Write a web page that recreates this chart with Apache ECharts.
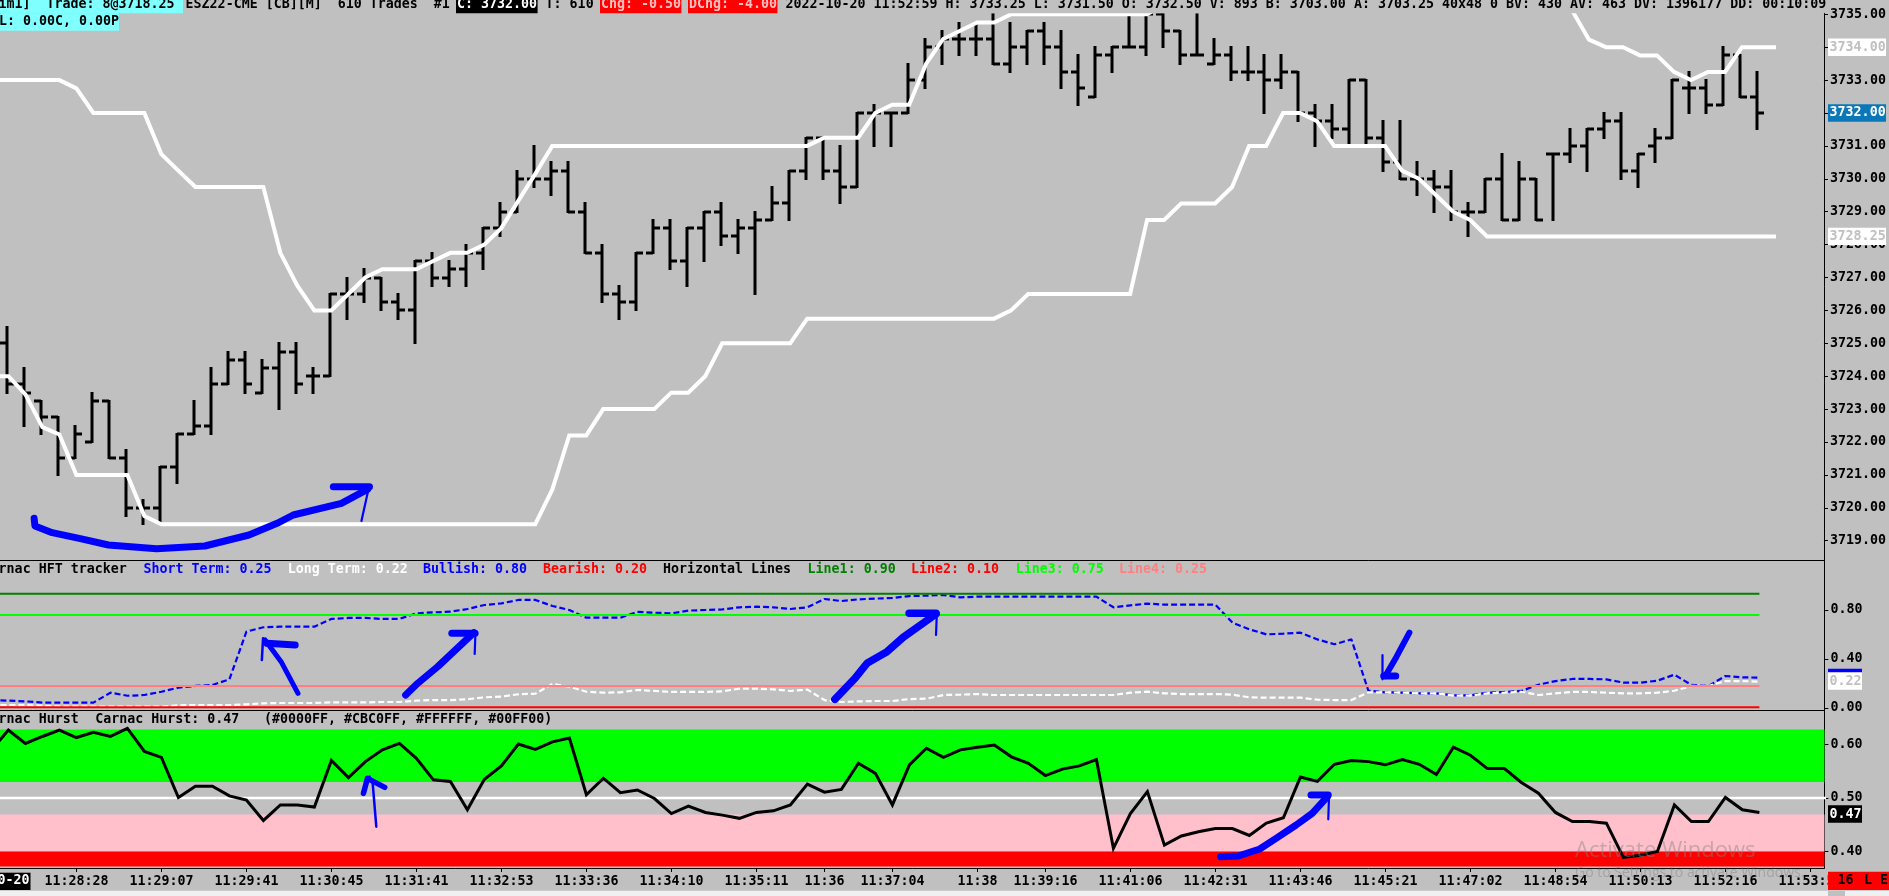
<!DOCTYPE html>
<html><head><meta charset="utf-8">
<style>html,body{margin:0;padding:0;background:#f0f0f0;overflow:hidden}#c{width:1889px;height:896px}</style>
<script src="https://cdn.jsdelivr.net/npm/echarts@6/dist/echarts.min.js"></script>
</head><body><div id="c"></div>
<script>
// --- data, indexed by bar number ---
const opens=[3725,3723.75,3723.25,3722.75,3721.5,3722,3723.25,3721.5,3720,3720,3721.25,3722.25,3722.5,3723.75,3724.5,3723.5,3724.25,3724.75,3724,3724,3726.5,3726.5,3727,3726.25,3726,3727.5,3727,3727.25,3727.75,3728.5,3729,3730,3730,3730.25,3729,3727.75,3726.5,3726.25,3727.75,3728.5,3727.5,3728.5,3729,3728.25,3728.5,3728.75,3729.25,3730.25,3731.25,3730.25,3729.75,3732,3732,3732,3733,3734,3734.25,3734.25,3734.25,3733.5,3734,3734.5,3734,3733.25,3732.5,3733.75,3734,3734,3735,3734.5,3733.75,3733.5,3733.75,3733.25,3733.25,3733,3733.25,3732,3731.75,3731.5,3733,3731.25,3730.5,3730,3730,3729.75,3729,3729,3730,3728.75,3730,3730.75,3730.75,3731,3731.5,3731.75,3730.25,3731,3731.25,3732.75,3732.75,3732.25,3733.75,3732.5];
const highs=[3725.5,3724.25,3723.25,3722.75,3722.5,3723.5,3723.25,3721.75,3720.25,3721.25,3722.25,3723.25,3724.25,3724.75,3724.75,3724.5,3725,3725,3724.25,3726.5,3727,3727.25,3727,3726.5,3727.5,3727.75,3727.5,3728,3728.5,3729.25,3730.25,3731,3730.5,3730.5,3729.25,3728,3726.75,3727.75,3728.75,3728.75,3728.5,3729,3729.25,3728.75,3729,3729.75,3730.25,3731.25,3731.25,3731,3732,3732.25,3732,3733.5,3734.25,3734.5,3734.75,3734.75,3735,3734.75,3734.5,3734.75,3734.5,3733.75,3734,3734,3735,3735,3735,3734.5,3735,3734.25,3734,3734,3733.75,3733.75,3733.25,3732.25,3732.25,3733,3733,3731.75,3731.75,3730.5,3730.25,3730.25,3729.25,3730,3730.75,3730.5,3730,3730.75,3731.5,3731.5,3732,3732,3730.75,3731.5,3733,3733.25,3733,3734,3733.75,3733.25];
const lows=[3723.5,3722.5,3722.25,3721,3721.5,3722,3721.5,3719.75,3719.5,3719.5,3720.75,3722.25,3722.25,3723.75,3723.5,3723.5,3723,3723.5,3723.5,3724,3725.75,3726.25,3726,3725.75,3725,3726.75,3726.75,3726.75,3727.25,3728.25,3729,3729.75,3729.5,3729,3727.75,3726.25,3725.75,3726,3727.75,3727.25,3726.75,3727.5,3728,3727.75,3726.5,3728.75,3728.75,3730,3730,3729.25,3729.75,3731,3731,3732,3732.75,3733.5,3733.75,3733.75,3733.5,3733.25,3733.5,3733.5,3732.75,3732.25,3732.5,3733.25,3734,3733.75,3734,3733.5,3733.75,3733.5,3733,3733,3732,3732.75,3731.75,3731,3731.25,3731,3731,3730.25,3730,3729.5,3729,3728.75,3728.25,3729,3728.75,3728.75,3728.75,3728.75,3730.5,3730.25,3731.25,3730,3729.75,3730.5,3731.25,3732,3732,3732.25,3732.5,3731.5];
const closes=[3723.75,3723.5,3722.75,3721.5,3722.25,3723.25,3721.5,3720,3720,3721.25,3722.25,3722.5,3723.75,3724.5,3723.75,3724.25,3724.75,3723.75,3724,3726.5,3726.5,3727,3726.25,3726,3727.5,3727,3727.25,3727.75,3728.5,3729,3730,3730,3730.25,3729,3727.75,3726.5,3726.25,3727.75,3728.5,3727.5,3728.5,3729,3728.25,3728.5,3728.75,3729.25,3730.25,3731.25,3730.25,3729.75,3732,3732,3732,3733,3734,3734.25,3734.25,3734.25,3733.5,3734,3734.5,3734,3733.25,3732.75,3733.75,3734,3734,3735,3734.5,3733.75,3733.75,3733.75,3733.25,3733.25,3733,3733.25,3732,3731.75,3731.5,3733,3731.25,3730.5,3730,3730,3729.75,3729,3729,3730,3728.75,3730,3728.75,3730.75,3731,3731.5,3731.75,3730.25,3730.75,3731.25,3733,3732.75,3732.25,3733.75,3732.5,3732];
const upperBand=[3733,3733,3733,3733,3732.75,3732,3732,3732,3732,3730.75,3730.25,3729.75,3729.75,3729.75,3729.75,3729.75,3727.75,3726.75,3726,3726,3726.5,3727,3727.25,3727.25,3727.25,3727.5,3727.75,3727.75,3728,3728.5,3729.33,3730.15,3731,3731,3731,3731,3731,3731,3731,3731,3731,3731,3731,3731,3731,3731,3731,3731,3731.25,3731.25,3731.25,3732,3732.25,3732.25,3733.5,3734.25,3734.5,3734.75,3734.75,3735,3735,3735,3735,3735,3735,3735,3735,3735,3735.3,null,null,null,null,null,null,null,null,null,null,null,null,null,null,null,null,null,null,null,null,null,null,null,3735.12,3734.23,3734,3734,3733.75,3733.75,3733.25,3733,3733.25,3733.25,3734,3734,3734];
const lowerBand=[3724,3723.45,3722.45,3722.23,3721,3721,3721,3721,3719.75,3719.5,3719.5,3719.5,3719.5,3719.5,3719.5,3719.5,3719.5,3719.5,3719.5,3719.5,3719.5,3719.5,3719.5,3719.5,3719.5,3719.5,3719.5,3719.5,3719.5,3719.5,3719.5,3719.5,3720.55,3722.2,3722.2,3723,3723,3723,3723,3723.5,3723.5,3724,3725,3725,3725,3725,3725,3725.75,3725.75,3725.75,3725.75,3725.75,3725.75,3725.75,3725.75,3725.75,3725.75,3725.75,3725.75,3726,3726.5,3726.5,3726.5,3726.5,3726.5,3726.5,3726.5,3728.75,3728.75,3729.25,3729.25,3729.25,3729.75,3731,3731,3732,3732,3731.75,3731,3731,3731,3731,3730.25,3730,3729.5,3729,3728.75,3728.25,3728.25,3728.25,3728.25,3728.25,3728.25,3728.25,3728.25,3728.25,3728.25,3728.25,3728.25,3728.25,3728.25,3728.25,3728.25,3728.25,3728.25];
const shortTerm=[.06,.054,.044,.044,.044,.044,.125,.10,.106,.133,.166,.18,.188,.234,.623,.659,.664,.664,.664,.727,.735,.735,.727,.727,.773,.781,.786,.808,.841,.854,.882,.882,.833,.80,.737,.737,.737,.784,.778,.773,.795,.80,.805,.822,.827,.822,.808,.822,.89,.873,.887,.893,.898,.914,.917,.922,.903,.909,.909,.909,.909,.909,.909,.909,.909,.822,.838,.852,.844,.844,.844,.844,.697,.642,.601,.607,.615,.56,.52,.56,.141,.128,.125,.12,.12,.103,.103,.125,.131,.139,.19,.22,.237,.237,.234,.207,.207,.223,.272,.188,.18,.261,.25,.248];
const longTerm=[.024,.024,.019,.011,.011,.011,.011,.011,.011,.011,.022,.024,.024,.024,.03,.038,.041,.041,.041,.046,.046,.046,.049,.049,.06,.065,.065,.071,.087,.093,.112,.117,.196,.174,.133,.125,.128,.147,.139,.131,.131,.131,.136,.158,.158,.152,.139,.15,.065,.049,.054,.057,.057,.073,.076,.106,.109,.114,.106,.106,.106,.106,.106,.106,.106,.106,.125,.133,.12,.114,.114,.114,.109,.087,.084,.084,.084,.068,.065,.065,.128,.128,.125,.12,.12,.101,.101,.12,.125,.133,.106,.12,.131,.131,.125,.12,.12,.125,.141,.18,.18,.22,.22,.215];
const hurst=[.627,.602,.615,.627,.613,.623,.615,.630,.587,.576,.501,.522,.522,.504,.496,.458,.487,.487,.483,.570,.538,.568,.590,.602,.574,.534,.531,.478,.535,.560,.601,.591,.605,.612,.506,.537,.510,.515,.499,.471,.485,.473,.468,.462,.473,.476,.487,.526,.511,.516,.565,.546,.487,.562,.593,.576,.590,.595,.599,.577,.565,.542,.554,.560,.572,.406,.471,.512,.412,.429,.437,.443,.443,.430,.453,.463,.539,.531,.563,.570,.568,.562,.572,.563,.544,.595,.580,.555,.555,.529,.509,.473,.456,.456,.453,.389,.393,.400,.487,.456,.456,.501,.478,.473];
// values of the bar just left of the window (only its line segments show)
const upperBefore=3733, lowerBefore=3724, shortBefore=.065, longBefore=.024, hurstBefore=.59;
const priceTicks=[3735,3734,3733,3732,3731,3730,3729,3728,3727,3726,3725,3724,3723,3722,3721,3720,3719];
const hftTicks=[.8,.4,0];
const hurstTicks=[.6,.5,.4];
const timeTickBars=[4,9,14,19,24,29,34,39,44,48,52,57,61,66,71,76,81,86,91,96,101,106];
const timeTickLabels=['11:28:28','11:29:07','11:29:41','11:30:45','11:31:41','11:32:53','11:33:36','11:34:10','11:35:11','11:36','11:37:04','11:38','11:39:16','11:41:06','11:42:31','11:43:46','11:45:21','11:47:02','11:48:54','11:50:13','11:52:16','11:53:59'];
const hLines=[{v:.90,c:'#008000'},{v:.10,c:'#ff0000'},{v:.75,c:'#00ff00'},{v:.25,c:'#ff8080'}];
const hurstBands=[{a:.628,b:.53,c:'#00ff00'},{a:.469,b:.40,c:'#ffc0cb'},{a:.40,b:.372,c:'#ff0000'}];
const hurstMid=.5;
const lastBar=103;

// --- layout ---
const W=1889,H=896,axisX=1824.4,BG='#c0c0c0';
const barStep=17, xMin=-8.4/barStep, xMax=xMin+axisX/barStep;
const FONT='bold 13.3px "DejaVu Sans Mono"';
const g1={top:13.3,bottom:560.3},g2={top:560.3,bottom:710.3},g3={top:710.3,bottom:868};
const gridOf=g=>({left:0,right:W-axisX,top:g.top,height:g.bottom-g.top});
const xBase=(idx,show)=>({type:'value',gridIndex:idx,min:xMin,max:xMax,splitLine:{show:false},
  axisLine:{show:true,onZero:false,lineStyle:{color:'#000',width:1}},
  axisTick:show?{show:true,length:4,lineStyle:{color:'#000'},customValues:timeTickBars}:{show:false},
  axisLabel:show?{show:true,color:'#000',fontFamily:'DejaVu Sans Mono',fontWeight:'bold',fontSize:13.3,margin:7,
    customValues:timeTickBars,formatter:v=>timeTickLabels[timeTickBars.indexOf(Math.round(v))]}:{show:false}});
const yBase=(idx,min,max,ticks)=>({type:'value',gridIndex:idx,position:'right',min,max,splitLine:{show:false},
  axisLine:{show:true,onZero:false,lineStyle:{color:'#000',width:1}},
  axisTick:{show:true,length:4,lineStyle:{color:'#000'},customValues:ticks},
  axisLabel:{show:true,color:'#000',fontFamily:'DejaVu Sans Mono',fontWeight:'bold',fontSize:13.3,margin:6,customValues:ticks,formatter:v=>v.toFixed(2)}});
const pairs=(arr,before)=>[[-1,before],...arr.map((v,i)=>[i,v])];
const lineS=(name,data,x,y,color,width,extra)=>Object.assign({name,type:'line',xAxisIndex:x,yAxisIndex:y,data,symbol:'none',showSymbol:false,animation:false,silent:true,connectNulls:false,lineStyle:{color,width,join:'miter',cap:'butt'}},extra||{});

const ohlc=opens.map((o,i)=>[i,o,highs[i],lows[i],closes[i]]);
function renderBar(params,api){
  const xc=Math.round(api.coord([api.value(0),api.value(1)])[0]-1.6);
  const py=v=>Math.round(api.coord([0,v])[1]);
  const yO=py(api.value(1)),yH=py(api.value(2)),yL=py(api.value(3)),yC=py(api.value(4));
  const st={fill:'#000'};
  return {type:'group',children:[
    {type:'rect',shape:{x:xc-1.5,y:yH-1,width:3,height:yL-yH+2},style:st},
    {type:'rect',shape:{x:xc-7,y:yO-1.5,width:7,height:3},style:st},
    {type:'rect',shape:{x:xc,y:yC-1.5,width:7,height:3},style:st}]};
}

const series=[
 {name:'Price',type:'custom',xAxisIndex:0,yAxisIndex:0,data:ohlc,renderItem:renderBar,animation:false,silent:true,z:2,clip:true,encode:{x:0,y:[1,2,3,4]}},
 lineS('Upper',pairs(upperBand,upperBefore),0,0,'#fff',4,{z:3}),
 lineS('Lower',pairs(lowerBand,lowerBefore),0,0,'#fff',4,{z:3}),
 lineS('Short Term',pairs(shortTerm,shortBefore),1,1,'#0000ff',2,{z:2,lineStyle:{color:'#0000ff',width:2.2,type:[6,3]}}),
 lineS('Long Term',pairs(longTerm,longBefore),1,1,'#fff',2,{z:2,lineStyle:{color:'#fff',width:2.2,type:[6,3]}}),
];
hLines.forEach(l=>series.push(lineS('Line '+l.v,[[-1,l.v],[lastBar,l.v]],1,2,l.c,2,{z:3})));
series.push({name:'Bands',type:'line',xAxisIndex:2,yAxisIndex:3,data:[],z:1,silent:true,animation:false,
  markArea:{silent:true,animation:false,data:hurstBands.map(b=>[{yAxis:b.a,itemStyle:{color:b.c,opacity:1}},{yAxis:b.b}])}});
series.push(lineS('Mid',[[-1,hurstMid],[110,hurstMid]],2,3,'#fff',2.4,{z:2}));
series.push(lineS('Carnac Hurst',pairs(hurst,hurstBefore),2,3,'#000',3,{z:3}));

const chart=echarts.init(document.getElementById('c'),null,{renderer:'canvas',width:W,height:H});
chart.setOption({
  backgroundColor:BG,animation:false,
  grid:[gridOf(g1),gridOf(g2),gridOf(g3)],
  xAxis:[xBase(0,false),xBase(1,false),xBase(2,true)],
  yAxis:[
    yBase(0,3735-(g1.bottom-14.3)/32.9,3735+(14.3-g1.top)/32.9,priceTicks),
    yBase(1,(708-g2.bottom)/122.5,(708-g2.top)/122.5,hftTicks),
    Object.assign(yBase(1,.75-(g2.bottom-615)/142,.75+(615-g2.top)/142,[]),{show:false}),
    yBase(2,hurstMid-(g3.bottom-798)/535,hurstMid+(798-g3.top)/535,hurstTicks)
  ],
  series
});

// --- overlays: status text, value tags, hand-drawn arrows ---
const Z=50,els=[];
const txt=(text,x,y,fill,extra)=>els.push({type:'text',z:Z+2,silent:true,style:Object.assign({text,x,y,fill,font:FONT,verticalAlign:'middle',align:'left'},extra||{})});
const rect=(x,y,w,h,fill,z)=>els.push({type:'rect',z:z||Z+1,silent:true,shape:{x,y,width:w,height:h},style:{fill}});
rect(0,0,axisX,13.3,BG);
rect(0,0,183,13.3,'#80ffff'); rect(0,13.3,119,17.4,'#80ffff');
txt('im1]  Trade: 8@3718.25',-1.5,4.7,'#000');
txt('ESZ22-CME [CB][M]  610 Trades  #1',185.6,4.7,'#000');
rect(456,0,81.6,13.3,'#000'); txt('C: 3732.00',457,4.7,'#fff');
txt('T: 610',545.6,4.7,'#000');
rect(600,0,81.4,13.3,'#ff0000'); txt('Chg: -0.50',601,4.7,'#ffc0c0');
rect(688,0,89.5,13.3,'#ff0000'); txt('DChg: -4.00',689,4.7,'#ffc0c0');
txt('2022-10-20 11:52:59 H: 3733.25 L: 3731.50 O: 3732.50 V: 893 B: 3703.00 A: 3703.25 40x48 0 BV: 430 AV: 463 DV: 1396177 DD: 00:10:09',785.5,4.7,'#000');
txt('L: 0.00C, 0.00P',-1,22,'#000');

const y2=570,y3=720;
txt('Carnac HFT tracker',-17.4,y2,'#000');
[['Short Term: 0.25',143.4,'#0000ff'],['Long Term: 0.22',287.7,'#ffffff'],['Bullish: 0.80',423,'#0000ff'],['Bearish: 0.20',543,'#ff0000'],['Horizontal Lines',663,'#000'],['Line1: 0.90',807.6,'#008000'],['Line2: 0.10',911,'#ff0000'],['Line3: 0.75',1015.7,'#00ff00'],['Line4: 0.25',1119,'#ff8080']].forEach(a=>txt(a[0],a[1],y2,a[2]));
txt('Carnac Hurst',-17.4,y3,'#000');
txt('Carnac Hurst: 0.47',95.2,y3,'#000');
txt('(#0000FF, #CBC0FF, #FFFFFF, #00FF00)',264,y3,'#000');

rect(axisX+0.6,711,W-axisX,18,BG);  // clips the 0.00 label at the pane edge

const tag=(value,axis,text,bg,fg,z)=>{
  const y=chart.convertToPixel({yAxisIndex:axis},value);
  rect(1828,y-8.7,text.length*8+2,17.4,bg,z);
  els.push({type:'text',z:z+1,silent:true,style:{text,x:1829.6,y,fill:fg,font:FONT,verticalAlign:'middle',align:'left'}});
};
tag(3734,0,'3734.00','#fff','#c0c0c0',Z+3);
tag(3732,0,'3732.00','#0a78b8','#fff',Z+3);
tag(3728.25,0,'3728.25','#fff','#c0c0c0',Z+3);
tag(.25,1,'0.25','#0000ff','#0000ff',Z+3);
tag(.22,1,'0.22','#fff','#c0c0c0',Z+5);
tag(.47,3,'0.47','#000','#fff',Z+3);

// date box and status box
rect(0,872.7,30.5,17.3,'#000');
els.push({type:'text',z:Z+2,silent:true,style:{text:'10-20',x:29.5,y:881,fill:'#fff',font:FONT,verticalAlign:'middle',align:'right'}});
rect(0,890.7,W,6,'#f0f0f0');
rect(1828,891,17,5,BG);
rect(1828,871.7,61,18.3,'#ff0000');
txt('16',1837.6,881,'#000'); txt('L',1864,881,'#000'); txt('E',1880,881,'#000');

// Windows watermark
txt('Activate Windows',1575,851,'rgba(130,130,130,0.45)',{font:'22px "Open Sans"'});
txt('Go to Settings to activate Windows.',1575,873,'rgba(120,120,120,0.4)',{font:'14px "Open Sans"'});

// hand-drawn blue arrows
const crop=(ox,oy,pts)=>pts.map(p=>[ox+p[0]/2.49,oy+p[1]/3]);
const stroke=(pts,w)=>els.push({type:'polyline',z:Z,silent:true,shape:{points:pts},style:{stroke:'#0000ff',lineWidth:w,fill:null,lineJoin:'round',lineCap:'round'}});
stroke(crop(0,300,[[85,655],[87,678],[130,698],[200,716],[270,735],[390,746],[510,738],[620,705],[690,670],[730,645],[850,610],[915,568]]),7);
stroke(crop(0,300,[[830,560],[920,560]]),7); stroke(crop(0,300,[[918,565],[900,663]]),2.2);
stroke(crop(0,550,[[742,430],[700,335],[660,270]]),5);
stroke(crop(0,550,[[665,280],[735,285]]),7); stroke(crop(0,550,[[655,265],[652,330]]),2.5);
stroke(crop(0,550,[[1010,435],[1040,400],[1090,350],[1180,248]]),7);
stroke(crop(0,550,[[1125,250],[1183,250]]),7); stroke(crop(0,550,[[1184,245],[1182,312]]),2.2);
stroke(crop(0,550,[[937,830],[928,700],[920,680]]),2.5);
stroke(crop(0,550,[[905,730],[915,685],[958,712]]),5.5);
stroke(crop(630,550,[[510,448],[560,385],[590,340],[640,305],[680,262],[762,192]]),7.5);
stroke(crop(630,550,[[695,190],[762,190]]),7.5); stroke(crop(630,550,[[764,190],[762,255]]),2.2);
stroke(crop(1260,550,[[372,248],[340,320],[312,378]]),6);
stroke(crop(1260,550,[[305,315],[305,388]]),2.2); stroke(crop(1260,550,[[308,378],[338,378]]),7);
stroke(crop(630,550,[[1470,920],[1515,918],[1568,897]]).concat(crop(1260,550,[[40,865],[90,825],[130,790],[168,740]])),7);
stroke(crop(1260,550,[[127,735],[170,735]]),7); stroke(crop(1260,550,[[172,735],[170,808]]),2.2);

chart.setOption({graphic:{elements:els}});
</script></body></html>
